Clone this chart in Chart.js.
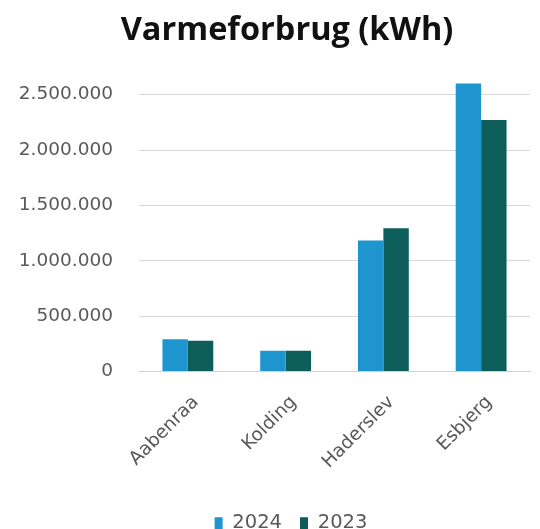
<!DOCTYPE html>
<html>
<head>
<meta charset="utf-8">
<script src="https://cdn.jsdelivr.net/npm/chart.js@4.4.1/dist/chart.umd.min.js"></script>
<style>
  html, body { margin: 0; padding: 0; background: #fff; }
  #wrap { width: 540px; height: 529px; }
</style>
</head>
<body>
<div id="wrap"><canvas id="grafico"></canvas></div>
<script>
// data
const byer = ['Aabenraa', 'Kolding', 'Haderslev', 'Esbjerg'];
const forbrug2024 = [292000, 187000, 1184000, 2602000];
const forbrug2023 = [278000, 187000, 1293000, 2271000];
const yTicks = [0, 500000, 1000000, 1500000, 2000000, 2500000];

const farve2024 = '#1f95d0';
const farve2023 = '#0d5e5a';
const gra = '#595959';
const skrift = 'DejaVu Sans';

// titel og forklaring står lidt til højre i originalen
const flytBokse = {
  id: 'flytBokse',
  afterLayout(chart) {
    chart.titleBlock.left += 18;
    chart.titleBlock.right += 18;
    chart.legend.left += 22;
    chart.legend.right += 22;
    chart.legend.top += 14;
    chart.legend.bottom += 14;
  }
};

const ctx = document.getElementById('grafico').getContext('2d');

const grafico = new Chart(ctx, {
  type: 'bar',
  data: {
    labels: byer,
    datasets: [
      { label: '2024', data: forbrug2024, backgroundColor: farve2024 },
      { label: '2023', data: forbrug2023, backgroundColor: farve2023 }
    ]
  },
  options: {
    responsive: true,
    maintainAspectRatio: false,
    animation: false,
    layout: { padding: { left: 8, right: 10, top: 0, bottom: 0 } },
    datasets: { bar: { barPercentage: 1, categoryPercentage: 0.52 } },
    plugins: {
      title: {
        display: true,
        text: 'Varmeforbrug (kWh)',
        color: '#111',
        font: { family: 'Open Sans', size: 32.5, weight: 'bold' },
        padding: { top: 11, bottom: 17 }
      },
      legend: {
        position: 'bottom',
        labels: {
          color: gra,
          font: { family: skrift, size: 19.5 },
          boxWidth: 8,
          boxHeight: 12,
          padding: 18
        }
      },
      tooltip: { enabled: false }
    },
    scales: {
      x: {
        afterFit: (scale) => { scale.height = 110; },
        grid: { display: false },
        border: { color: '#d0d0d0' },
        ticks: {
          color: gra,
          font: { family: skrift, size: 18.5 },
          minRotation: 45,
          maxRotation: 45,
          labelOffset: 8,
          padding: 12
        }
      },
      y: {
        min: 0,
        max: 2750000,
        afterBuildTicks: (scale) => {
          scale.ticks = yTicks.map(v => ({ value: v }));
        },
        afterFit: (scale) => { scale.width = 131; },
        border: { display: false },
        grid: { color: '#d9d9d9', drawTicks: false },
        ticks: {
          color: gra,
          padding: 26,
          font: { family: skrift, size: 18.5 },
          callback: (v) => v.toLocaleString('da-DK')
        }
      }
    }
  },
  plugins: [flytBokse]
});
</script>
</body>
</html>
